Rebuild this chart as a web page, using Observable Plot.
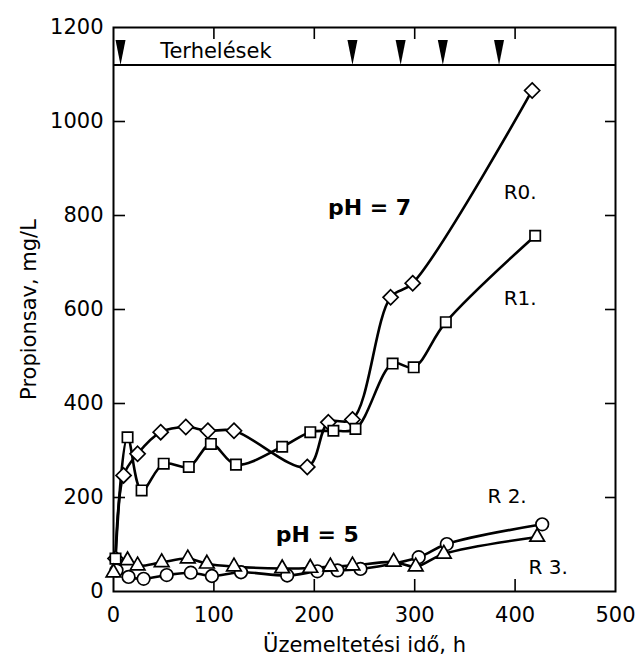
<!DOCTYPE html>
<html><head><meta charset="utf-8">
<script src="https://cdn.jsdelivr.net/npm/d3@7"></script>
<script src="https://cdn.jsdelivr.net/npm/@observablehq/plot@0.6"></script>
<style>body{margin:0;background:#fff;}</style>
</head><body><div id="chart"></div>
<script>
// Data
const r0Time  = [2, 10, 24, 47, 72, 94, 120, 193, 214, 238, 276, 298, 417];
const r0Value = [70, 247, 293, 339, 350, 342, 342, 265, 360, 366, 626, 656, 1066];
const r1Time  = [2, 14, 28, 50, 75, 97, 122, 168, 196, 219, 241, 278, 299, 331, 420];
const r1Value = [70, 328, 215, 272, 265, 314, 270, 308, 339, 342, 346, 485, 477, 573, 757];
const r2Time  = [3, 15, 30, 53, 77, 98, 127, 173, 203, 223, 246, 304, 332, 427];
const r2Value = [45, 31, 27, 35, 40, 33, 41, 34, 43, 45, 48, 73, 101, 143];
const r3Time  = [0, 14, 24, 48, 74, 93, 120, 168, 196, 216, 238, 279, 301, 329, 422];
const r3Value = [40, 66, 55, 62, 70, 59, 53, 49, 50, 53, 55, 63, 53, 80, 116];
const loadTimes = [7, 238, 286, 328, 384];   // "Terhelések" markers
const xTickLabels = [0, 100, 200, 300, 400, 500];
const yTickLabels = [0, 200, 400, 600, 800, 1000, 1200];
const xInnerTicks = [100, 200, 300, 400];
const yInnerTicks = [200, 400, 600, 800, 1000];
const bandLevel = 1120;
const seriesLabels = [
  {name: "R0.", t: 405, v: 849},
  {name: "R1.", t: 405, v: 623},
  {name: "R 2.", t: 392, v: 202},
  {name: "R 3.", t: 433, v: 51}
];
const phLabels = [
  {name: "pH = 7", t: 255, v: 815},
  {name: "pH = 5", t: 203, v: 121}
];

const toRows = (ts, vs) => ts.map((t, i) => ({t, v: vs[i]}));
const r0 = toRows(r0Time, r0Value);
const r1 = toRows(r1Time, r1Value);
const r2 = toRows(r2Time, r2Value);
const r3 = toRows(r3Time, r3Value);

const arrowSymbol = {
  draw(ctx) {
    ctx.moveTo(-5, -25);
    ctx.lineTo(5, -25);
    ctx.lineTo(0, 0);
    ctx.closePath();
  }
};

const W = 636, H = 658, mL = 113, mR = 21, mT = 27, mB = 67;
const fw = W - mL - mR, fh = H - mT - mB;
const lineOpts = {x: "t", y: "v", stroke: "black", strokeWidth: 2.6, curve: "catmull-rom"};
const dotOpts = {x: "t", y: "v", fill: "white", stroke: "black", strokeWidth: 1.7};

const chart = Plot.plot({
  width: W, height: H,
  marginLeft: mL, marginRight: mR, marginTop: mT, marginBottom: mB,
  style: {fontFamily: "DejaVu Sans, sans-serif", color: "black", background: "white"},
  x: {domain: [0, 500]},
  y: {domain: [0, 1200]},
  marks: [
    Plot.axisX({ticks: xTickLabels, tickFormat: d3.format("d"), tickSize: 0, tickPadding: 16, fontSize: 21,
      label: "Üzemeltetési idő, h", labelAnchor: "center", labelOffset: 60, labelArrow: "none"}),
    Plot.axisY({ticks: yTickLabels, tickFormat: d3.format("d"), tickSize: 0, tickPadding: 10, fontSize: 21,
      label: "Propionsav, mg/L", labelAnchor: "center", labelOffset: 92, labelArrow: "none"}),
    Plot.frame({stroke: "black", strokeWidth: 2}),
    Plot.ruleY([bandLevel], {stroke: "black", strokeWidth: 2}),
    Plot.tickX(xInnerTicks, {x: d => d, insetTop: fh - 12, stroke: "black", strokeWidth: 1.6}),
    Plot.tickX(xInnerTicks, {x: d => d, insetBottom: fh - 12, stroke: "black", strokeWidth: 1.6}),
    Plot.tickY(yInnerTicks, {y: d => d, insetRight: fw - 12, stroke: "black", strokeWidth: 1.6}),
    Plot.tickY(yInnerTicks, {y: d => d, insetLeft: fw - 10, stroke: "black", strokeWidth: 1.6}),
    Plot.line(r0, lineOpts),
    Plot.line(r1, lineOpts),
    Plot.line(r2, lineOpts),
    Plot.line(r3, lineOpts),
    Plot.dot(r0, {...dotOpts, symbol: "diamond2", r: 6.8}),
    Plot.dot(r1, {...dotOpts, symbol: "square2", r: 6.6}),
    Plot.dot(r2, {...dotOpts, symbol: "circle", r: 6.3}),
    Plot.dot(r3, {...dotOpts, symbol: "triangle2", r: 7}),
    Plot.dot(loadTimes, {x: d => d, y: () => bandLevel, symbol: arrowSymbol, fill: "black", stroke: "none", r: 5}),
    Plot.text(["Terhelések"], {x: () => 102, y: () => 1150, text: d => d, fontSize: 21, fill: "black"}),
    Plot.text(seriesLabels, {x: "t", y: "v", text: "name", fontSize: 20, fill: "black"}),
    Plot.text(phLabels, {x: "t", y: "v", text: "name", fontSize: 22, fontWeight: "bold", fill: "black"})
  ]
});
document.getElementById("chart").appendChild(chart);
</script>
</body></html>
